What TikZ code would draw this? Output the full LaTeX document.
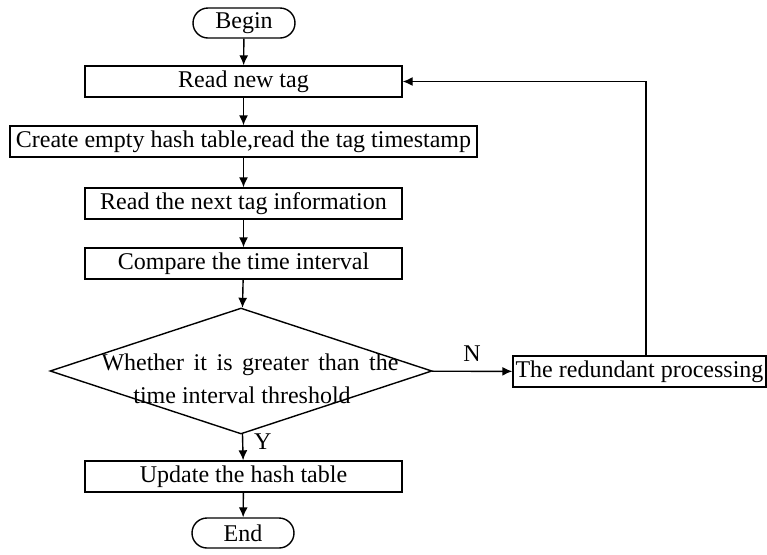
\documentclass[tikz,border=0pt]{standalone}
\usepackage{fontspec}
\setmainfont{Liberation Serif}
\usetikzlibrary{shapes.geometric,shapes.misc,arrows.meta}

\begin{document}
\begin{tikzpicture}[x=0.5pt,y=-0.5pt,>={Latex[length=5pt,width=4.5pt]},line width=0.7pt,
    font=\fontsize{12}{16.5}\selectfont,
    proc/.style={draw,rectangle,inner sep=0pt,minimum height=15.5pt,minimum width=158.5pt},
    term/.style={draw,rounded rectangle,inner sep=0pt,minimum height=15pt,minimum width=51pt}]
        \useasboundingbox (0,0) rectangle (767,554);

        % draw the begin and end
        \node[term] (begin) at (244,23) {Begin};
        \node[term] (end) at (243,533) {End};

        % draw the process boxes
        \node[proc] (readnew) at (243.5,81.5) {Read new tag};
        \node[proc,minimum width=233.5pt] (create) at (243.5,141.5) {Create empty hash table,read the tag timestamp};
        \node[proc] (readnext) at (243.5,203.5) {Read the next tag information};
        \node[proc] (compare) at (243.5,263.5) {Compare the time interval};
        \node[proc] (update) at (243.5,476.5) {Update the hash table};
        \node[proc,minimum width=126.5pt] (redundant) at (639.5,371.5) {The redundant processing};

        % draw the decision
        \node[draw,diamond,inner sep=0pt,minimum width=191pt,minimum height=63pt] (decide) at (241,371) {};
        \node[align=center,inner sep=0pt] (decidetext) at (250,379)
            {\makebox[148.5pt][s]{Whether it is greater than the}\\time interval threshold\hspace*{8pt}};
        \coordinate (loop) at (646,82);

        % draw the arrows
        \draw[->] (begin) -- (readnew);
        \draw[->] (readnew) -- (create);
        \draw[->] (create) -- (readnext);
        \draw[->] (readnext) -- (compare);
        \draw[->] (compare) -- (decide);
        \draw[->] (decide) -- node[right=2pt,pos=0.3] {Y} (update);
        \draw[->] (update) -- (end);
        \draw[->] (decide) -- node[above=1pt] {N} (redundant);
        \draw[->] (redundant.north -| loop) |- (readnew);
\end{tikzpicture}
\end{document}
